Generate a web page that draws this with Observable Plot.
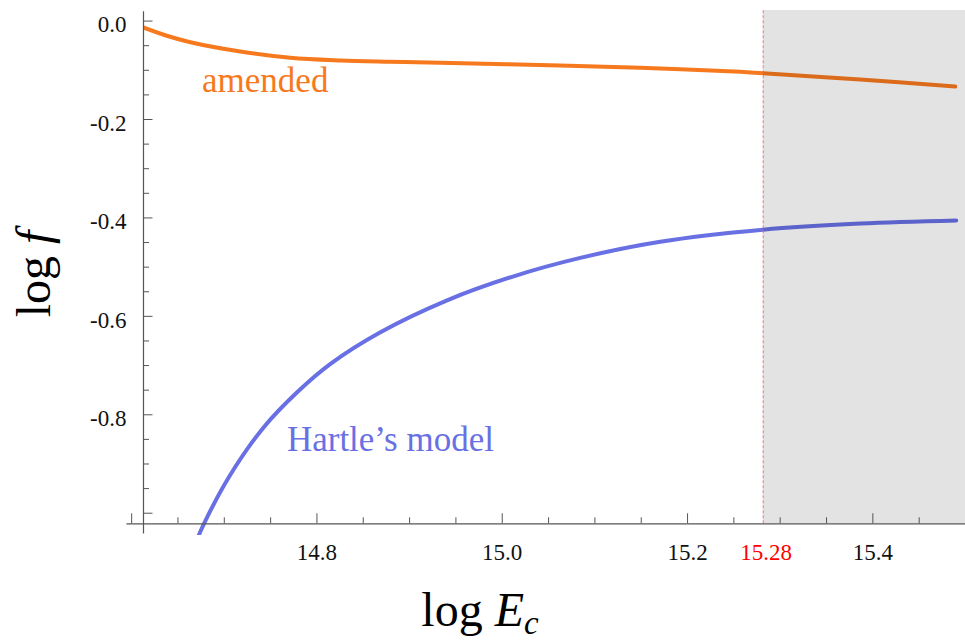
<!DOCTYPE html>
<html>
<head>
<meta charset="utf-8">
<script src="https://cdn.jsdelivr.net/npm/d3@7"></script>
<script src="https://cdn.jsdelivr.net/npm/@observablehq/plot@0.6"></script>
<style>
  html, body { margin: 0; padding: 0; background: white; }
  svg text { font-family: 'Liberation Serif', 'Times New Roman', serif; }
</style>
</head>
<body>
<div id="chart"></div>
<script>
// ---- Data ----
const amendedX = [14.6118, 14.637, 14.6634, 14.7174, 14.7712, 14.8253, 14.878, 14.9332, 15.0626, 15.1489, 15.2568, 15.2817, 15.3864, 15.4889];
const amendedY = [-0.0124, -0.0293, -0.0429, -0.0618, -0.0746, -0.0801, -0.0827, -0.0847, -0.0902, -0.0949, -0.1030, -0.1060, -0.1187, -0.1329];

const hartleX = [14.6700, 14.6780, 14.7049, 14.7426, 14.7786, 14.8146, 14.8685, 14.9405, 15.0123, 15.0842, 15.1705, 15.2813, 15.3864, 15.4900];
const hartleY = [-1.0560, -1.0215, -0.9268, -0.8252, -0.7541, -0.6964, -0.6322, -0.5674, -0.5186, -0.4812, -0.4484, -0.4240, -0.4115, -0.4052];

const cutoffX = 15.2817;          // vertical red dashed line, labelled 15.28
const cutoffLabel = "15.28";

const xDomain = [14.6128, 15.5];
const yDomain = [-1.0453, 0.0215];
const xAxisAtY = -1.0215;         // where the horizontal axis crosses
const yAxisTop = 0.019;
const yAxisBottom = -1.042;
const xAxisLeft = 14.595;

const xMajorTicks = [14.6, 14.8, 15.0, 15.2, 15.4];
const xMinorTicks = [14.65, 14.7, 14.75, 14.85, 14.9, 14.95, 15.05, 15.1, 15.15, 15.25, 15.3, 15.35, 15.45];
const xTickLabels = [14.8, 15.0, 15.2, 15.4];

const yMajorTicks = [0, -0.2, -0.4, -0.6, -0.8, -1.0];
const yMinorTicks = [-0.05, -0.1, -0.15, -0.25, -0.3, -0.35, -0.45, -0.5, -0.55, -0.65, -0.7, -0.75, -0.85, -0.9, -0.95];
const yTickLabels = [0, -0.2, -0.4, -0.6, -0.8];

const seriesLabels = [
  {text: "amended", x: 14.676, y: -0.145, series: "amended"},
  {text: "Hartle\u2019s model", x: 14.7676, y: -0.873, series: "hartle"}
];

// ---- Build tables ----
const amended = amendedX.map((x, i) => ({x, y: amendedY[i]}));
const hartle = hartleX.map((x, i) => ({x, y: hartleY[i]}));

const ORANGE = "#f7791e";
const BLUE = "#6870e4";
const AXIS = "#555555";
const FONT = "'Liberation Serif', 'Times New Roman', serif";

const W = 965, H = 641, ML = 143, MR = 0, MT = 10, MB = 106;
const fmtY = d => (d === 0 ? "0.0" : "-" + Math.abs(d).toFixed(1));
const fmtX = d => d.toFixed(1);

const plot = Plot.plot({
  width: W, height: H,
  marginLeft: ML, marginRight: MR, marginTop: MT, marginBottom: MB,
  style: {background: "white"},
  x: {domain: xDomain, axis: null},
  y: {domain: yDomain, axis: null},
  marks: [
    Plot.line(amended, {x: "x", y: "y", stroke: ORANGE, strokeWidth: 4, curve: "catmull-rom", clip: true}),
    Plot.line(hartle, {x: "x", y: "y", stroke: BLUE, strokeWidth: 4, curve: "catmull-rom", clip: true}),
    // shaded region beyond cutoff
    Plot.rect([{x1: cutoffX, x2: xDomain[1], y1: xAxisAtY, y2: yDomain[1]}],
      {x1: "x1", x2: "x2", y1: "y1", y2: "y2", fill: "black", fillOpacity: 0.11}),
    // dashed cutoff line
    Plot.ruleX([cutoffX], {y1: xAxisAtY, y2: yDomain[1], stroke: "#ff6060", strokeOpacity: 0.8, strokeWidth: 1, strokeDasharray: "3,2"}),
    // axes lines
    Plot.ruleX([xDomain[0]], {y1: yAxisTop, y2: yAxisBottom, stroke: AXIS, strokeWidth: 1.2}),
    Plot.ruleY([xAxisAtY], {x1: xAxisLeft, x2: xDomain[1], stroke: AXIS, strokeWidth: 1.2}),
    // y ticks (pointing right, into the plot)
    Plot.ruleY(yMajorTicks, {stroke: AXIS, strokeWidth: 1, insetRight: (W - ML - MR) - 9.5}),
    Plot.ruleY(yMinorTicks, {stroke: AXIS, strokeWidth: 1, insetRight: (W - ML - MR) - 6}),
    // x ticks (pointing up, into the plot)
    Plot.ruleX(xMajorTicks, {stroke: AXIS, strokeWidth: 1, insetBottom: 11.7, insetTop: (H - MT - MB) - 11.7 - 10}),
    Plot.ruleX(xMinorTicks, {stroke: AXIS, strokeWidth: 1, insetBottom: 11.7, insetTop: (H - MT - MB) - 11.7 - 6}),
    // tick labels
    Plot.text(yTickLabels, {y: d => d, text: fmtY, frameAnchor: "left", textAnchor: "end", lineAnchor: "middle",
      dx: -17, dy: 4, fontSize: 23, fontFamily: FONT, fill: "#111"}),
    Plot.text(xTickLabels, {x: d => d, text: fmtX, frameAnchor: "bottom", lineAnchor: "top",
      dy: 8, fontSize: 23, fontFamily: FONT, fill: "#111"}),
    Plot.text([cutoffX], {x: d => d, text: () => cutoffLabel, frameAnchor: "bottom", lineAnchor: "top",
      dx: 3, dy: 8, fontSize: 23, fontFamily: FONT, fill: "#ff0000"}),
    // series labels
    Plot.text(seriesLabels, {x: "x", y: "y", text: "text", textAnchor: "start", lineAnchor: "bottom",
      fontSize: 35, fontFamily: FONT,
      fill: d => d.series === "amended" ? ORANGE : BLUE})
  ]
});

document.getElementById("chart").appendChild(plot);

// Axis titles with italic math parts
const svg = d3.select(plot);
const xt = svg.append("text")
  .attr("x", 480).attr("y", 626)
  .attr("font-family", FONT).attr("font-size", 48).attr("fill", "#000");
xt.append("tspan").text("log ");
xt.append("tspan").attr("font-style", "italic").text("E");
xt.append("tspan").attr("font-style", "italic").attr("font-size", 33).attr("dy", 8).text("c");

const yt = svg.append("text")
  .attr("transform", "translate(50,274) rotate(-90)")
  .attr("text-anchor", "middle")
  .attr("font-family", FONT).attr("font-size", 48).attr("fill", "#000");
yt.append("tspan").text("log ");
yt.append("tspan").attr("font-style", "italic").text("f");

svg.selectAll("text").attr("font-family", FONT).style("font-family", FONT);
</script>
</body>
</html>
